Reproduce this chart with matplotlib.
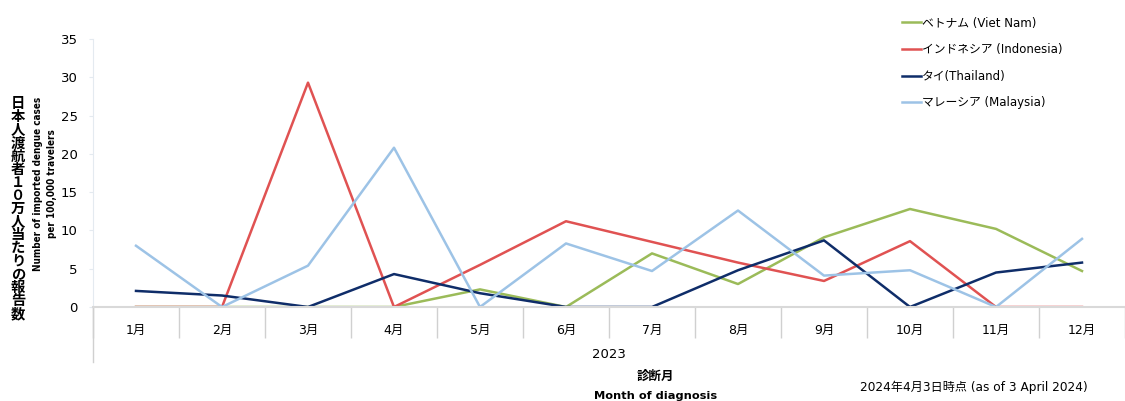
import matplotlib.pyplot as plt
from matplotlib.lines import Line2D

plt.rcParams['font.family'] = ['DejaVu Sans', 'Noto Sans CJK JP']

# Data (imported dengue cases per 100,000 travelers, 2023)
months = ['1月', '2月', '3月', '4月', '5月', '6月', '7月', '8月', '9月', '10月', '11月', '12月']
vietnam = [0, 0, 0, 0, 2.3, 0, 7.0, 3.0, 9.1, 12.8, 10.2, 4.7]
indonesia = [0, 0, 29.3, 0, 5.5, 11.2, 8.5, 5.8, 3.4, 8.6, 0, 0]
thailand = [2.1, 1.5, 0, 4.3, 1.8, 0, 0, 4.8, 8.7, 0, 4.5, 5.8]
malaysia = [8.0, 0, 5.4, 20.8, 0, 8.3, 4.7, 12.6, 4.1, 4.8, 0, 8.9]

series = [
    ('ベトナム (Viet Nam)', vietnam, '#9bbb59'),
    ('インドネシア (Indonesia)', indonesia, '#e05252'),
    ('タイ(Thailand)', thailand, '#0f2d69'),
    ('マレーシア (Malaysia)', malaysia, '#9dc3e6'),
]

fig = plt.figure(figsize=(11.25, 4.01), dpi=100)
ax = fig.add_axes([93 / 1125, 94 / 401, 1 - 93 / 1125, 268 / 401])

x = list(range(len(months)))
for label, vals, color in series:
    ax.plot(x, vals, color=color, linewidth=1.8, label=label)

ax.set_xlim(-0.5, 11.39)
ax.set_ylim(0, 35)
ax.set_yticks(range(0, 36, 5))
ax.set_xticks(x)
ax.set_xticklabels(months, fontsize=9)
ax.set_xticks([i + 0.5 for i in range(-1, 12)], minor=True)
ax.tick_params(axis='x', which='major', length=0, pad=12)
ax.tick_params(axis='x', which='minor', length=22, color='#d0d0d0', width=1)
ax.tick_params(axis='y', length=3, color='#e4eaf0', labelsize=9.5, pad=8)

for s in ['top', 'right']:
    ax.spines[s].set_visible(False)
ax.spines['left'].set_color('#e4eaf0')
ax.spines['bottom'].set_color('#d9d9d9')
ax.spines['bottom'].set_linewidth(1.5)

# left boundary line of the multi-level category axis
ax.add_line(Line2D([0, 0], [0, -55 / 268], transform=ax.transAxes,
                   color='#d0d0d0', linewidth=1, clip_on=False))

ax.text(5.5, -47 / 268 * 35, '2023', fontsize=9.5, ha='center', va='center')

# axis titles
fig.text(655 / 1125, 1 - 376 / 401, '診断月', fontsize=9, fontweight='bold',
         ha='center', va='center')
fig.text(656 / 1125, 1 - 396 / 401, 'Month of diagnosis', fontsize=8.2,
         fontweight='bold', ha='center', va='center')
fig.text(860 / 1125, 1 - 387 / 401, '2024年4月3日時点 (as of 3 April 2024)',
         fontsize=8.7, ha='left', va='center')

fig.text(45 / 1125, 1 - 184 / 401,
         'Number of imported dengue cases\nper 100,000 travelers',
         rotation=90, fontsize=7.1, fontweight='bold', fontstretch='condensed',
         ha='center', va='center', linespacing=1.55)

jp_label = '日本人渡航者１０万人当たりの報告数'
fig.text(18 / 1125, 1 - 209 / 401, '\n'.join(jp_label), fontsize=10.3,
         fontweight='bold', ha='center', va='center', linespacing=0.92)

fig.legend(loc='upper left', bbox_to_anchor=(891 / 1125, 1 - 6 / 401),
           frameon=False, fontsize=8.5, handlelength=1.6, handletextpad=0.1,
           labelspacing=1.15)

fig.savefig('out.png', dpi=100)
